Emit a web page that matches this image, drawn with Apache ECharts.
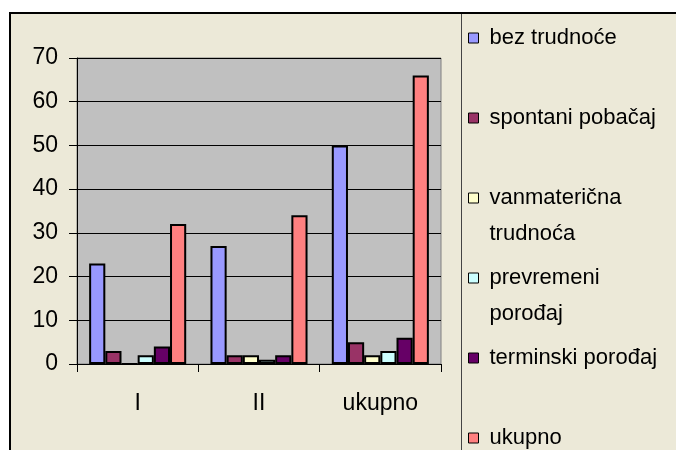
<!DOCTYPE html>
<html>
<head>
<meta charset="utf-8">
<style>
  html, body { margin: 0; padding: 0; background: #fff; }
  #chart { width: 676px; height: 450px; }
</style>
<script src="https://cdn.jsdelivr.net/npm/echarts@6/dist/echarts.min.js"></script>
</head>
<body>
<div id="chart"></div>
<script>
// categories on the x axis
const categories = ["I", "II", "ukupno"];

// one array per series, values in category order
const bezTrudnoce = [23, 27, 50];
const spontaniPobacaj = [3, 2, 5];
const vanmaternicnaTrudnoca = [0, 2, 2];
const prevremeniPorodjaj = [2, 1, 3];
const terminskiPorodjaj = [4, 2, 6];
const ukupno = [32, 34, 66];

const seriesNames = [
  "bez trudnoće",
  "spontani pobačaj",
  "vanmaterična trudnoća",
  "prevremeni porođaj",
  "terminski porođaj",
  "ukupno",
];
const seriesData = [
  bezTrudnoce,
  spontaniPobacaj,
  vanmaternicnaTrudnoca,
  prevremeniPorodjaj,
  terminskiPorodjaj,
  ukupno,
];
const colors = ["#9999ff", "#993366", "#ffffcc", "#ccffff", "#660066", "#ff8080"];

// legend labels that wrap onto a second line
const legendLines = {
  "vanmaterična trudnoća": ["vanmaterična", "trudnoća"],
  "prevremeni porođaj": ["prevremeni", "porođaj"],
};

const yTicks = { min: 0, max: 70, interval: 10 };

const FONT = "'Liberation Sans', Arial, sans-serif";
const LEGEND_LH = 36;

const chart = echarts.init(document.getElementById("chart"), null, { renderer: "canvas" });

const legends = seriesNames.map((name, i) => {
  const center = 38 + 80 * i;
  const wrapped = legendLines[name];
  return {
    data: [name],
    left: 468,
    top: wrapped ? center - LEGEND_LH * 1.5 : center - LEGEND_LH / 2,
    padding: 0,
    icon: "rect",
    itemWidth: 10,
    itemHeight: 10,
    selectedMode: false,
    itemStyle: { borderColor: "#000", borderWidth: 1 },
    textStyle: {
      fontFamily: FONT,
      fontSize: 22,
      color: "#000",
      lineHeight: LEGEND_LH,
      padding: [0, 0, 0, 6],
    },
    formatter: (n) => (legendLines[n] ? " \n" + legendLines[n].join("\n") : n),
  };
});

const option = {
  animation: false,
  backgroundColor: "#ffffff",
  graphic: [
    {
      type: "rect",
      z: -10,
      shape: { x: 10, y: 13, width: 700, height: 500 },
      style: { fill: "#ece9d8", stroke: "#000", lineWidth: 2 },
    },
    {
      type: "line",
      z: -9,
      shape: { x1: 461.5, y1: 14, x2: 461.5, y2: 450 },
      style: { stroke: "#444", lineWidth: 1 },
    },
  ],
  legend: legends,
  grid: {
    left: 77,
    right: 235,
    top: 58,
    bottom: 86,
    show: true,
    backgroundColor: "#c0c0c0",
    borderColor: "#808080",
    borderWidth: 1,
  },
  xAxis: {
    type: "category",
    data: categories,
    axisLine: { lineStyle: { color: "#000", width: 1 } },
    axisTick: { show: true, length: 8, lineStyle: { color: "#000" } },
    axisLabel: { fontFamily: FONT, fontSize: 23, color: "#000", margin: 28 },
  },
  yAxis: {
    type: "value",
    min: yTicks.min,
    max: yTicks.max,
    interval: yTicks.interval,
    axisLine: { show: true, lineStyle: { color: "#000", width: 1 } },
    axisTick: { show: true, length: 8, lineStyle: { color: "#000" } },
    splitLine: { lineStyle: { color: "#000", width: 1 } },
    axisLabel: { fontFamily: FONT, fontSize: 23, color: "#000", margin: 19 },
  },
  series: seriesNames.map((name, i) => ({
    name: name,
    type: "bar",
    data: seriesData[i],
    barGap: "0%",
    barCategoryGap: "20%",
    itemStyle: { color: colors[i], borderColor: "#000", borderWidth: 2 },
  })),
};

chart.setOption(option);
</script>
</body>
</html>
